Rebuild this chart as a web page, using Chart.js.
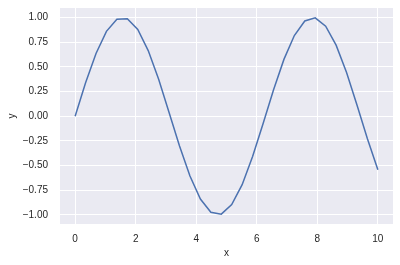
<!DOCTYPE html>
<html lang="en">
<head>
<meta charset="UTF-8">
<title>sin</title>
<script src="https://cdn.jsdelivr.net/npm/chart.js"></script>
<style>
  html, body { margin: 0; padding: 0; background: #ffffff; }
  #wrap { width: 400px; height: 265px; }
</style>
</head>
<body>
<div id="wrap"><canvas id="myChart" width="400" height="265"></canvas></div>
<script>
// values (30 samples between 0 and 10)
var xs = [0, 0.345, 0.690, 1.034, 1.379, 1.724, 2.069, 2.414, 2.759, 3.103,
          3.448, 3.793, 4.138, 4.483, 4.828, 5.172, 5.517, 5.862, 6.207, 6.552,
          6.897, 7.241, 7.586, 7.931, 8.276, 8.621, 8.966, 9.310, 9.655, 10];
var ys = [0, 0.338, 0.636, 0.860, 0.982, 0.988, 0.879, 0.665, 0.374, 0.038,
          -0.302, -0.606, -0.840, -0.974, -0.993, -0.896, -0.694, -0.409, -0.076, 0.265,
          0.576, 0.818, 0.965, 0.997, 0.912, 0.720, 0.443, 0.114, -0.228, -0.544];
var xTicks = [0, 2, 4, 6, 8, 10];
var yTicks = [-1, -0.75, -0.5, -0.25, 0, 0.25, 0.5, 0.75, 1];

var points = xs.map(function (x, i) { return { x: x, y: ys[i] }; });

// seaborn darkgrid background behind the plot area
var bgPlugin = {
  id: 'bg',
  beforeDraw: function (chart) {
    var a = chart.chartArea, ctx = chart.ctx;
    ctx.save();
    ctx.fillStyle = '#EAEAF2';
    ctx.fillRect(a.left, a.top, a.right - a.left, a.bottom - a.top);
    ctx.restore();
  }
};

var font = { family: '"Liberation Sans", Arial, sans-serif', size: 10 };
var textColor = '#262626';

var ctx = document.getElementById('myChart').getContext('2d');
var myChart = new Chart(ctx, {
  type: 'line',
  data: {
    datasets: [{
      data: points,
      borderColor: '#4C72B0',
      borderWidth: 1.5,
      pointRadius: 0,
      tension: 0,
      fill: false
    }]
  },
  options: {
    responsive: false,
    animation: false,
    layout: { padding: { top: 8, right: 7, left: 0, bottom: 0 } },
    plugins: { legend: { display: false }, tooltip: { enabled: false } },
    scales: {
      x: {
        type: 'linear',
        min: -0.5,
        max: 10.5,
        afterBuildTicks: function (s) { s.ticks = xTicks.map(function (v) { return { value: v }; }); },
        afterFit: function (s) { s.height = 41; s.paddingLeft = 0; s.paddingRight = 0; },
        grid: { color: '#ffffff', lineWidth: 1, drawTicks: false },
        border: { display: false },
        ticks: { font: font, color: textColor, padding: 9, maxRotation: 0 },
        title: { display: true, text: 'x', font: font, color: textColor, padding: { top: 0, bottom: 6 } }
      },
      y: {
        type: 'linear',
        min: -1.093,
        max: 1.097,
        afterBuildTicks: function (s) { s.ticks = yTicks.map(function (v) { return { value: v }; }); },
        afterFit: function (s) { s.width = 60; s.paddingTop = 0; s.paddingBottom = 0; },
        grid: { color: '#ffffff', lineWidth: 1, drawTicks: false },
        border: { display: false },
        ticks: {
          font: font, color: textColor, padding: 12,
          callback: function (v) { return (v < 0 ? '\u2212' : '') + Math.abs(v).toFixed(2); }
        },
        title: { display: true, text: 'y', font: font, color: textColor, padding: { top: 6, bottom: 0 } }
      }
    }
  },
  plugins: [bgPlugin]
});
</script>
</body>
</html>
